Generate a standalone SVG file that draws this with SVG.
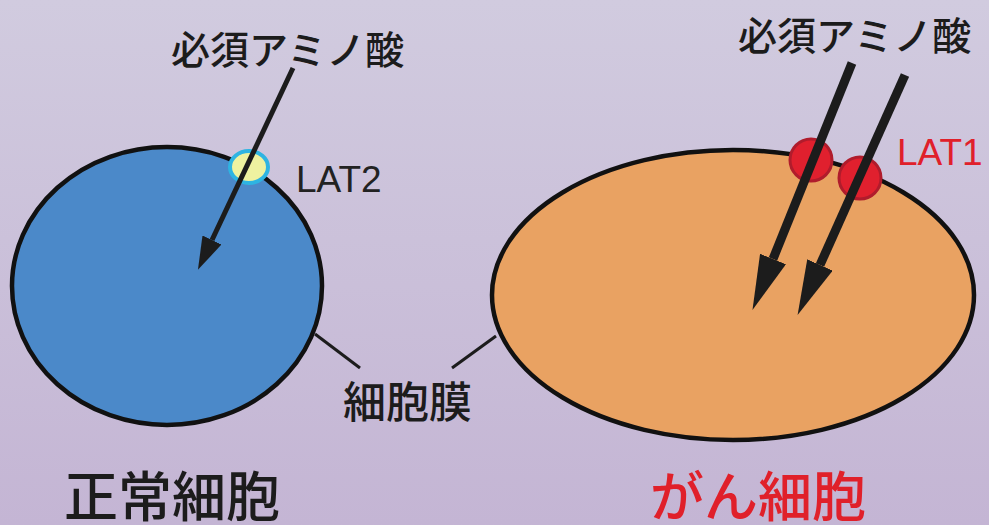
<svg xmlns="http://www.w3.org/2000/svg" width="989" height="525" viewBox="0 0 989 525">
  <defs>
    <linearGradient id="bg" x1="0" y1="0" x2="0" y2="1">
      <stop offset="0" stop-color="#d1cbdf"/>
      <stop offset="1" stop-color="#c4b5d4"/>
    </linearGradient>
    <!-- arrowheads start at the line end and point forward -->
    <marker id="head" viewBox="0 0 10 10" refX="0" refY="5" markerWidth="6.6" markerHeight="4.2" markerUnits="strokeWidth" orient="auto" preserveAspectRatio="none">
      <path d="M0,0 L10,5 L0,10 Z" fill="#1c1c1c"/>
    </marker>
    <marker id="headBig" viewBox="0 0 10 10" refX="0" refY="5" markerWidth="6.1" markerHeight="3.1" markerUnits="strokeWidth" orient="auto" preserveAspectRatio="none">
      <path d="M0,0 L10,5 L0,10 Z" fill="#1c1c1c"/>
    </marker>
  </defs>
  <style>
    .jp { font-family: "Noto Sans CJK JP", "Noto Sans", sans-serif; font-weight: 500; fill: #1c1c1c; }
    .lat { font-family: "Liberation Sans", Arial, sans-serif; font-size: 37px; }
    .cell { stroke: #111; stroke-width: 4.5; }
    .lead { stroke: #1c1c1c; stroke-width: 3; fill: none; }
    .arrow { stroke: #1c1c1c; fill: none; }
  </style>

  <rect width="989" height="525" fill="url(#bg)"/>

  <!-- normal cell -->
  <g id="normal-cell">
    <ellipse class="cell" cx="167" cy="286" rx="155" ry="139" fill="#4b89c9"/>
  </g>
  <g id="lat2">
    <ellipse cx="249" cy="167" rx="19" ry="16" fill="#eef2a0" stroke="#2eb4e2" stroke-width="4"/>
    <text class="lat" x="296" y="192" fill="#222">LAT2</text>
  </g>

  <!-- cancer cell -->
  <g id="cancer-cell">
    <ellipse class="cell" cx="733" cy="295" rx="241" ry="145" fill="#e9a262"/>
  </g>
  <g id="lat1">
    <circle cx="811" cy="160" r="21" fill="#e0202e" stroke="#b01c2c" stroke-width="3"/>
    <circle cx="860" cy="178" r="21" fill="#e0202e" stroke="#b01c2c" stroke-width="3"/>
    <text class="lat" x="897" y="165" fill="#e0202a">LAT1</text>
  </g>

  <!-- labels -->
  <g id="label-amino-left">
    <text class="jp" x="171" y="64" font-size="39">必須アミノ酸</text>
  </g>
  <g id="label-amino-right">
    <text class="jp" x="738" y="50" font-size="39">必須アミノ酸</text>
  </g>
  <g id="label-membrane">
    <text class="jp" x="343" y="418" font-size="43">細胞膜</text>
  </g>
  <g id="label-normal">
    <text class="jp" x="64" y="517" font-size="54">正常細胞</text>
  </g>
  <g id="label-cancer">
    <text class="jp" x="650" y="517" font-size="54" style="fill:#e0202a">がん細胞</text>
  </g>

  <!-- connectors -->
  <g id="connectors">
    <line class="arrow" x1="293" y1="68" x2="212" y2="240" stroke-width="5" marker-end="url(#head)"/>
    <line class="arrow" x1="852" y1="63" x2="773" y2="259" stroke-width="9" marker-end="url(#headBig)"/>
    <line class="arrow" x1="905" y1="75" x2="820" y2="265" stroke-width="9" marker-end="url(#headBig)"/>
    <line class="lead" x1="315" y1="334" x2="360" y2="368"/>
    <line class="lead" x1="496" y1="336" x2="452" y2="368"/>
  </g>
</svg>
